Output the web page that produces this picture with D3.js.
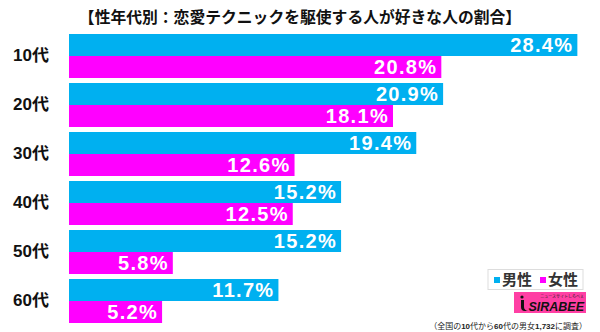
<!DOCTYPE html>
<html><head><meta charset="utf-8">
<script src="https://cdn.jsdelivr.net/npm/d3@7"></script>
<style>
html,body{margin:0;padding:0;background:#fff;}
svg{display:block;}
</style></head>
<body>
<svg id="c" width="600" height="332"></svg>
<script>
const title = "【性年代別：恋愛テクニックを駆使する人が好きな人の割合】";
const categories = ["10代","20代","30代","40代","50代","60代"];
const male = [28.4, 20.9, 19.4, 15.2, 15.2, 11.7];
const female = [20.8, 18.1, 12.6, 12.5, 5.8, 5.2];
const seriesNames = ["男性","女性"];
const colors = ["#00B0F0","#FF00FF"];

const svg = d3.select("#c");
const jp = "'Liberation Sans','Noto Sans CJK JP',sans-serif";

const x = d3.scaleLinear().domain([0, 30]).range([69, 606]);
const y = d3.scaleBand().domain(categories).range([34, 323]).paddingInner(0.102).paddingOuter(0);
const sub = d3.scaleBand().domain([0,1]).range([0, y.bandwidth()]).padding(0);

svg.append("text").attr("x", 300).attr("y", 23).attr("text-anchor","middle")
  .attr("font-family", jp).attr("font-weight","bold").attr("font-size", 15.8).attr("fill","#111")
  .text(title);

const rows = categories.map((c,i)=>({c, v:[male[i], female[i]]}));
const g = svg.selectAll("g.row").data(rows).join("g").attr("class","row")
  .attr("transform", d=>`translate(0,${y(d.c)})`);

g.selectAll("rect").data(d=>d.v.map((v,k)=>({v,k}))).join("rect")
  .attr("x", x(0)).attr("y", d=>sub(d.k)).attr("width", d=>x(d.v)-x(0))
  .attr("height", sub.bandwidth()).attr("fill", d=>colors[d.k]);

g.selectAll("text.val").data(d=>d.v.map((v,k)=>({v,k}))).join("text").attr("class","val")
  .attr("x", d=>x(d.v)-4).attr("y", d=>sub(d.k)+sub.bandwidth()/2).attr("dy","0.37em")
  .attr("text-anchor","end").attr("font-family","'Liberation Sans',Arial,sans-serif")
  .attr("font-weight","bold").attr("font-size", 20).attr("letter-spacing", 1.3)
  .attr("fill","#fff").text(d=>d.v.toFixed(1)+"%");

// category axis labels
const yAxis = d3.axisLeft(y).tickSize(0).tickPadding(0);
const ax = svg.append("g").attr("transform","translate(49,0)").call(yAxis);
ax.select(".domain").remove();
ax.selectAll("text").attr("font-family", jp).attr("font-weight","bold").attr("font-size",17).attr("fill","#111");

// legend
const lg = svg.append("g");
lg.append("rect").attr("x",488).attr("y",269.5).attr("width",95).attr("height",20)
  .attr("fill","#fff").attr("stroke","#ddd").attr("stroke-width",1);
const lx = [494, 540];
seriesNames.forEach((n,i)=>{
  lg.append("rect").attr("x",lx[i]).attr("y",277).attr("width",6).attr("height",6).attr("fill",colors[i]);
  lg.append("text").attr("x",lx[i]+8).attr("y",285).attr("font-family",jp).attr("font-weight","bold")
    .attr("font-size",15).attr("fill","#333").text(n);
});

// logo
const lo = svg.append("g");
lo.append("rect").attr("x",514).attr("y",292).attr("width",72).attr("height",21).attr("fill","#FF3FA4");
lo.append("text").attr("x",584).attr("y",297.5).attr("text-anchor","end").attr("font-family",jp)
  .attr("font-size",4).attr("fill","#222").text("ニュースサイトしらべぇ");
lo.append("text").attr("x",584).attr("y",310.5).attr("text-anchor","end")
  .attr("font-family","'Liberation Sans',Arial,sans-serif").attr("font-weight","bold").attr("font-style","italic")
  .attr("font-size",12.5).attr("fill","#111").text("SIRABEE");
lo.append("circle").attr("cx",522).attr("cy",297).attr("r",1.6).attr("fill","#111");
lo.append("path").attr("d","M521,300 L521,307 Q521,311 525,311 L528,311 Q524,310 524,307 L524,300 Z").attr("fill","#111");

// footnote
const fn = svg.append("text").attr("x",587).attr("y",329).attr("text-anchor","end")
  .attr("font-family",jp).attr("font-size",8).attr("fill","#222");
[["（全国の",false],["10",true],["代から",false],["60",true],["代の男女",false],["1,732",true],["に調査）",false]]
  .forEach(([t,b])=>fn.append("tspan").attr("font-weight", b?"bold":"normal").text(t));
</script>
</body></html>
